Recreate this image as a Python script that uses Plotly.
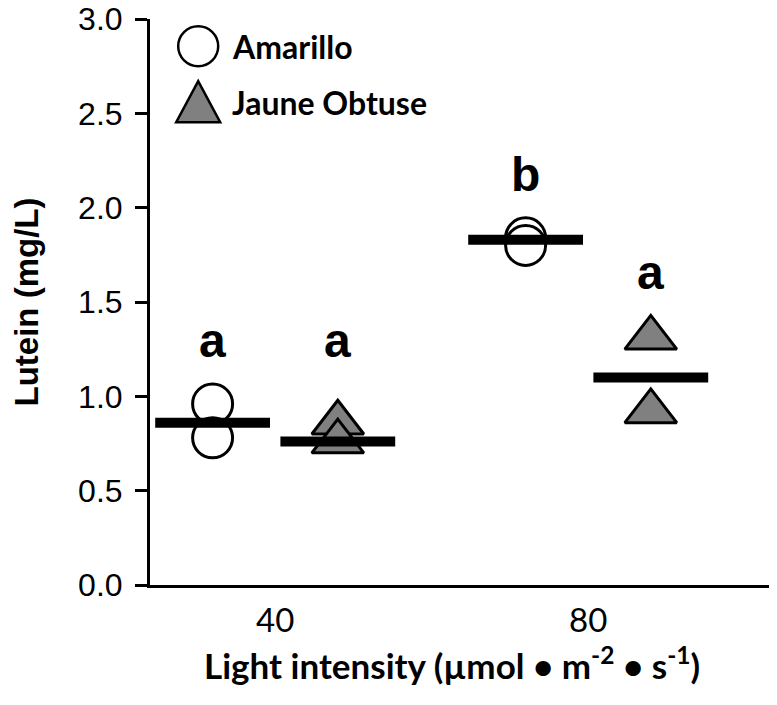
import plotly.graph_objects as go

# ---- data ----
categories = ["40", "80"]
amarillo_40 = [0.96, 0.78]
amarillo_80 = [1.84, 1.80]
jaune_40 = [0.86, 0.76]
jaune_80 = [1.31, 0.92]
amarillo_mean = [0.86, 1.83]
jaune_mean = [0.76, 1.10]
amarillo_letters = ["a", "b"]
jaune_letters = ["a", "a"]
amarillo_letter_y = [1.21, 2.09]
jaune_letter_y = [1.21, 1.57]
y_ticks = [0.0, 0.5, 1.0, 1.5, 2.0, 2.5, 3.0]

OFF = 0.2
cat_idx = list(range(len(categories)))


def xs(offset, groups):
    out, ys = [], []
    for i, g in zip(cat_idx, groups):
        for v in g:
            out.append(i + offset)
            ys.append(v)
    return out, ys


ax, ay = xs(-OFF, [amarillo_40, amarillo_80])
jx, jy = xs(OFF, [jaune_40, jaune_80])

fig = go.Figure()
fig.add_trace(go.Scatter(
    x=ax, y=ay, mode="markers", name="Amarillo",
    marker=dict(symbol="circle", size=40, color="white",
                line=dict(color="black", width=3)),
    showlegend=False))
fig.add_trace(go.Scatter(
    x=jx, y=jy, mode="markers", name="Jaune Obtuse",
    marker=dict(symbol="triangle-up", size=45, color="#808080",
                line=dict(color="black", width=3)),
    showlegend=False))
# mean bars
fig.add_trace(go.Scatter(
    x=[i - OFF for i in cat_idx], y=amarillo_mean, mode="markers",
    marker=dict(symbol="line-ew", size=82, line=dict(color="black", width=10)),
    showlegend=False))
fig.add_trace(go.Scatter(
    x=[i + OFF for i in cat_idx], y=jaune_mean, mode="markers",
    marker=dict(symbol="line-ew", size=82, line=dict(color="black", width=10)),
    showlegend=False))

annotations = []
for i, t, yv in zip(cat_idx, amarillo_letters, amarillo_letter_y):
    annotations.append(dict(x=i - OFF, y=yv, xref="x", yref="y", text=t,
                            showarrow=False, yanchor="bottom", yshift=-12,
                            font=dict(family="Liberation Sans", size=48, color="black",
                                      weight="bold")))
for i, t, yv in zip(cat_idx, jaune_letters, jaune_letter_y):
    annotations.append(dict(x=i + OFF, y=yv, xref="x", yref="y", text=t,
                            showarrow=False, yanchor="bottom", yshift=-12,
                            font=dict(family="Liberation Sans", size=48, color="black",
                                      weight="bold")))

# x-axis title
annotations.append(dict(
    x=0.483, y=-0.137, xref="paper", yref="paper", xanchor="center", yanchor="middle",
    text="Light intensity (µmol • m<sup>-2</sup> • s<sup>-1</sup>)", showarrow=False,
    font=dict(family="Lato", size=35, color="black", weight="bold")))

# legend
legend_items = ["Amarillo", "Jaune Obtuse"]
legend_y = [0.952, 0.853]
for txt, yy in zip(legend_items, legend_y):
    annotations.append(dict(x=0.128, y=yy, xref="paper", yref="paper", text=txt,
                            xanchor="left", yanchor="middle", showarrow=False,
                            font=dict(family="Lato", size=32, color="black", weight="bold")))

shapes = [
    dict(type="circle", xref="paper", yref="paper", xsizemode="pixel", ysizemode="pixel",
         xanchor=0.077, yanchor=legend_y[0], x0=-20, x1=20, y0=-20, y1=20,
         fillcolor="white", line=dict(color="black", width=2.5)),
    dict(type="path", xref="paper", yref="paper", xsizemode="pixel", ysizemode="pixel",
         xanchor=0.077, yanchor=legend_y[1], path="M -22 -20 L 22 -20 L 0 21 Z",
         fillcolor="#808080", line=dict(color="black", width=2.5)),
]

# page body adds an 8px offset; margins compensate so the plot area
# sits at x 150..776, y 19..585 on screen
fig.update_layout(
    width=777, height=705,
    margin=dict(l=142, r=9, t=11, b=128),
    plot_bgcolor="white", paper_bgcolor="white",
    annotations=annotations, shapes=shapes,
    xaxis=dict(range=[-0.4, 1.6], tickvals=cat_idx, ticktext=categories,
               automargin=False, ticklabeloverflow="allow",
               showgrid=False, zeroline=False, showline=True, linecolor="black",
               linewidth=3, ticks="", ticklabelstandoff=4,
               tickfont=dict(family="Lato", size=33, color="black")),
    yaxis=dict(range=[0, 3], tickvals=y_ticks, tickformat=".1f",
               automargin=False, ticklabeloverflow="allow",
               showgrid=False, zeroline=False, showline=True, linecolor="black",
               linewidth=3, ticks="outside", ticklen=12, tickwidth=3, tickcolor="black",
               ticklabelstandoff=6,
               tickfont=dict(family="Liberation Sans", size=32, color="black"),
               title=dict(text="Lutein (mg/L)", standoff=40,
                          font=dict(family="Liberation Sans", size=33, color="black",
                                    weight="bold"))),
)

fig.write_html("out.html")
